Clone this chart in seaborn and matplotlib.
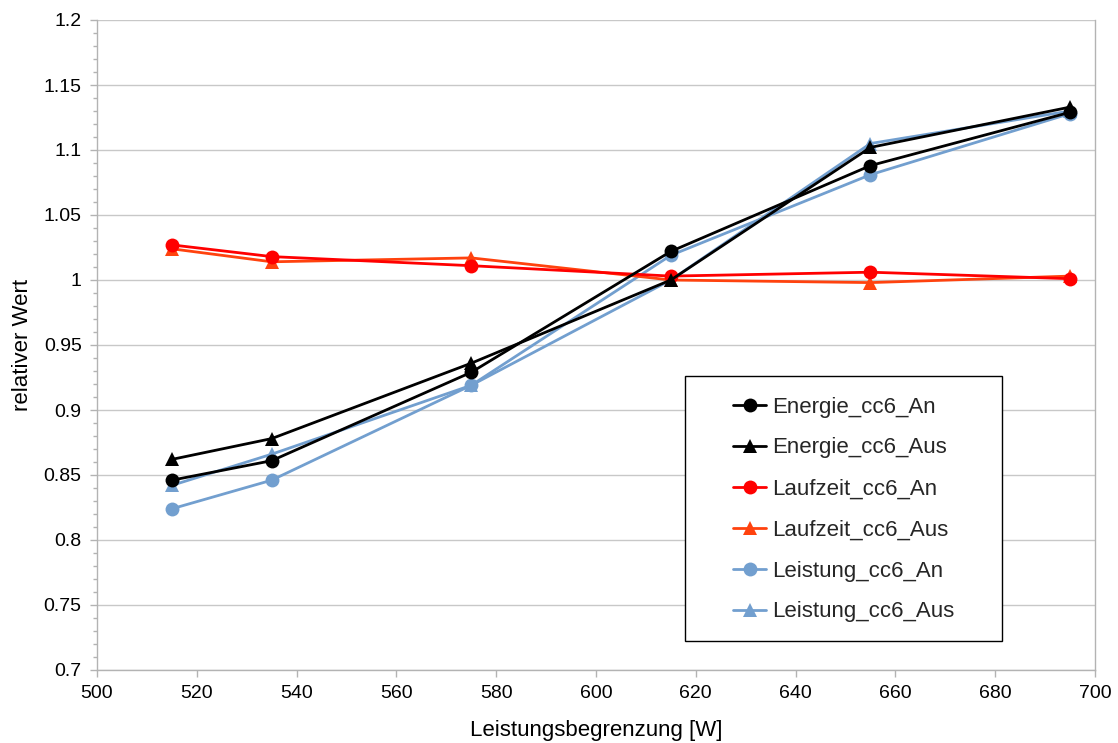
import matplotlib
matplotlib.use("Agg")
import matplotlib.pyplot as plt
from matplotlib.patches import Rectangle
from matplotlib.ticker import MultipleLocator
import seaborn as sns
import pandas as pd

power = [515, 535, 575, 615, 655, 695]
energie_an = [0.846, 0.861, 0.929, 1.022, 1.088, 1.129]
energie_aus = [0.862, 0.878, 0.936, 1.000, 1.102, 1.133]
laufzeit_an = [1.027, 1.018, 1.011, 1.003, 1.006, 1.001]
laufzeit_aus = [1.024, 1.014, 1.017, 1.000, 0.998, 1.003]
leistung_an = [0.824, 0.846, 0.919, 1.019, 1.081, 1.128]
leistung_aus = [0.842, 0.866, 0.919, 1.000, 1.105, 1.130]

series_names = ["Energie_cc6_An", "Energie_cc6_Aus", "Laufzeit_cc6_An",
                "Laufzeit_cc6_Aus", "Leistung_cc6_An", "Leistung_cc6_Aus"]
series_values = [energie_an, energie_aus, laufzeit_an, laufzeit_aus,
                 leistung_an, leistung_aus]
colors = ["#000000", "#000000", "#FF0000", "#FF420E", "#729FCF", "#729FCF"]
markers = ["o", "^", "o", "^", "o", "^"]

sns.set_theme(style="white")
plt.rcParams["font.family"] = ["Liberation Sans", "DejaVu Sans"]

fig = plt.figure(figsize=(11.18, 7.43), dpi=100)
ax = fig.add_axes([97/1118, 1-670/743, (1095-97)/1118, 650/743])

n = len(series_names)
for i, (name, vals, c, m) in enumerate(zip(series_names, series_values, colors, markers)):
    df = pd.DataFrame({"x": power, "y": vals})
    sns.lineplot(data=df, x="x", y="y", ax=ax, color=c, marker=m,
                 markersize=10, linewidth=2.0,
                 markeredgecolor=c, markeredgewidth=0, label=name,
                 zorder=10 + (n - i))

ax.set_xlim(500, 700)
ax.set_ylim(0.7, 1.2)
ax.xaxis.set_major_locator(MultipleLocator(20))
ax.yaxis.set_minor_locator(MultipleLocator(0.01))
ax.set_yticks([0.7 + 0.05*k for k in range(11)])
ax.set_yticklabels(["0.7", "0.75", "0.8", "0.85", "0.9", "0.95", "1", "1.05",
                    "1.1", "1.15", "1.2"])
ax.grid(axis="y", color="#C8C8C8", linewidth=1.0)
ax.grid(axis="x", visible=False)
ax.set_axisbelow(True)

for side in ["left", "bottom", "right"]:
    ax.spines[side].set_visible(True)
    ax.spines[side].set_color("#B3B3B3")
    ax.spines[side].set_linewidth(1.0)
ax.spines["top"].set_visible(False)

ax.tick_params(axis="both", which="major", direction="out", length=5,
               width=1, color="#B3B3B3", labelsize=14, pad=6, labelcolor="#000000",
               left=True, bottom=True)
ax.tick_params(axis="y", which="minor", direction="out", length=3, width=1,
               color="#B3B3B3", left=True)

ax.set_xlabel("Leistungsbegrenzung [W]", fontsize=16, labelpad=13, color="#000000")
ax.set_ylabel("relativer Wert", fontsize=16, labelpad=8, color="#000000")

# legend box
x0 = (685-97)/998
w = (1002-685)/998
y0 = (670-641)/650
h = (641-376)/650
ax.add_patch(Rectangle((x0, y0), w, h, transform=ax.transAxes, facecolor="white",
                       edgecolor="#000000", linewidth=1.0, zorder=30))
leg = ax.legend(loc="center", bbox_to_anchor=(x0 + w/2, (670-509.5)/650),
                frameon=False, fontsize=16, labelspacing=0.9,
                handlelength=1.5, handletextpad=0.25, borderpad=0)
leg.set_zorder(31)

fig.savefig("out.png", dpi=100)
